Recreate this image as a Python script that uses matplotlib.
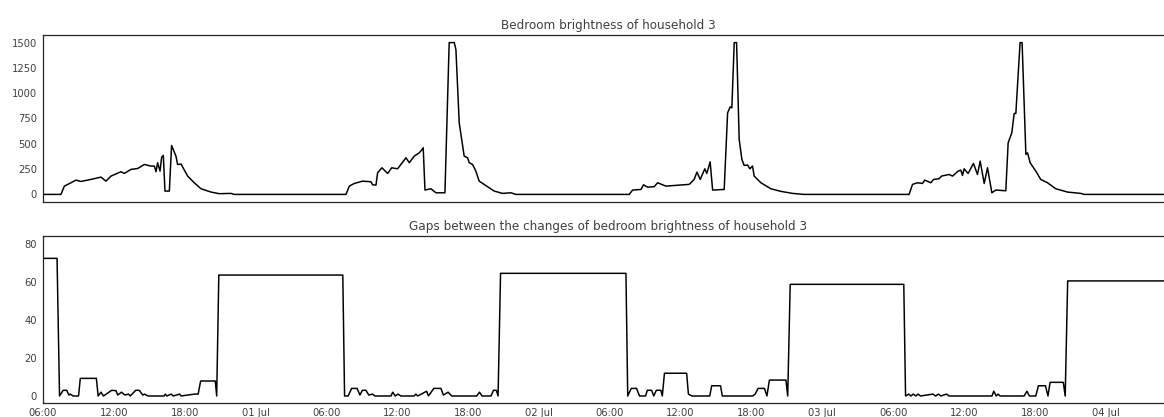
import matplotlib
matplotlib.use("Agg")
import matplotlib.pyplot as plt
import matplotlib.dates as mdates
from matplotlib.ticker import FuncFormatter
import pandas as pd

# ---- data (hours since 30 Jun 06:00) ----
start_time = "2018-06-30 06:00"
end_hours = 95.7

bright_hours = [0, 1.52, 1.81, 2.37, 2.79, 3.22, 4.06, 4.91, 5.33, 5.76, 6.60, 6.89, 7.45, 8.02, 8.58,
                9.14, 9.43, 9.57, 9.71, 9.91, 10.05, 10.19, 10.33, 10.70, 10.89, 11.26, 11.40, 11.69,
                12.25, 12.81, 13.38, 14.23, 14.94, 15.92, 16.20,
                25.66, 25.94, 26.36, 27.07, 27.77, 27.92, 28.20, 28.34, 28.70, 29.19, 29.53, 30.03,
                30.31, 30.74, 31.02, 31.44, 31.86, 32.00, 32.20, 32.35, 32.85, 33.28, 34.04, 34.40,
                34.83, 34.97, 35.25, 35.67, 35.96, 36.10, 36.38, 36.66, 36.94, 37.65, 38.21, 38.92,
                39.63, 40.05,
                49.65, 49.93, 50.64, 50.86, 51.20, 51.76, 52.05, 52.75, 54.73, 55.15, 55.38, 55.66,
                56.05, 56.22, 56.50, 56.71, 57.69, 57.98, 58.20, 58.34, 58.54, 58.74, 58.96, 59.19,
                59.38, 59.67, 59.87, 60.09, 60.23, 60.80, 61.64, 62.49, 63.48, 64.46,
                73.35, 73.64, 74.06, 74.48, 74.68, 75.19, 75.42, 75.89, 76.10, 76.74, 77.03, 77.50,
                77.73, 77.87, 78.01, 78.35, 78.80, 79.14, 79.37, 79.71, 79.99, 80.36, 80.69, 81.54,
                81.74, 82.05, 82.25, 82.39, 82.75, 82.92, 83.24, 83.38, 83.60, 84.08, 84.50, 85.07,
                85.77, 86.77, 87.89, 88.17, 95.7]
bright_values = [0, 0, 82, 115, 141, 128, 148, 171, 131, 181, 224, 207, 247, 256, 296,
                 280, 280, 224, 313, 230, 368, 385, 33, 33, 484, 378, 296, 300,
                 181, 115, 56, 23, 7, 10, 0,
                 0, 82, 108, 131, 125, 95, 92, 214, 263, 207, 263, 253,
                 296, 362, 313, 378, 411, 428, 461, 43, 56, 16, 16, 1500,
                 1500, 1431, 707, 378, 362, 313, 296, 230, 131, 76, 33, 10,
                 16, 0,
                 0, 43, 49, 95, 72, 76, 115, 82, 99, 148, 220, 148,
                 253, 207, 322, 43, 49, 806, 865, 855, 1500, 1500, 543, 345,
                 287, 290, 253, 280, 181, 115, 56, 30, 10, 0,
                 0, 99, 115, 108, 141, 115, 148, 155, 181, 197, 181, 230,
                 240, 187, 253, 207, 306, 197, 329, 108, 263, 16, 43, 36,
                 510, 609, 800, 800, 1500, 1500, 395, 411, 313, 230, 148, 115,
                 56, 23, 10, 0, 0]

gap_hours = [0, 1.19, 1.40, 1.71, 2.01, 2.19, 2.31, 2.55, 3.01, 3.16, 4.52, 4.67, 4.91, 5.12, 5.82,
             6.18, 6.33, 6.64, 6.94, 7.24, 7.39, 7.85, 8.15, 8.45, 8.60, 8.90, 10.26, 10.36, 10.48,
             10.87, 11.02, 11.57, 11.69, 12.83, 13.14, 13.35, 14.59, 14.71, 14.89, 25.39, 25.54,
             25.84, 26.14, 26.60, 26.84, 27.05, 27.35, 27.59, 27.90, 28.11, 29.47, 29.62, 29.83,
             30.07, 30.31, 31.43, 31.58, 31.74, 32.34, 32.49, 32.64, 33.10, 33.70, 33.91, 34.31,
             34.61, 36.73, 36.97, 37.18, 37.94, 38.15, 38.39, 38.54, 38.75, 49.37, 49.52,
             49.82, 50.27, 50.52, 51.03, 51.18, 51.54, 51.73, 51.94, 52.33, 52.45, 52.63, 54.51,
             54.66, 54.96, 56.47, 56.63, 57.38, 57.53, 60.10, 60.31, 60.56, 61.10, 61.31, 61.52,
             62.92, 63.07, 63.28, 72.90, 73.05,
             73.32, 73.50, 73.71, 73.92, 74.10, 74.32, 75.37, 75.59, 75.83, 76.04, 76.52, 76.74,
             80.37, 80.52, 80.73, 80.88, 81.06, 83.09, 83.33, 83.54, 84.08, 84.30, 84.90, 85.11,
             85.29, 86.41, 86.57, 86.78, 95.7]
gap_values = [72.6, 72.6, 0, 3, 3, 0.5, 1, 0, 0, 9.3, 9.3, 0, 2, 0, 3,
              2.8, 0.5, 2, 0.5, 1, 0, 3, 3, 0.5, 1, 0, 0, 1, 0,
              1, 0, 1, 0, 1, 1, 7.9, 7.9, 0, 63.8, 63.8, 0,
              0, 4, 4, 0.5, 3, 3, 0.5, 1, 0, 0, 2, 0,
              1, 0, 0, 1, 0, 2, 2.5, 0, 4, 4, 0.5, 2,
              0, 0, 2, 0, 0, 3, 3, 0, 64.7, 64.7, 0,
              4, 4, 0, 0, 3, 3, 0, 3, 3, 0, 12, 12,
              1, 0, 0, 5.4, 5.4, 0, 0, 1, 4, 4, 0, 8.4,
              8.4, 0, 58.9, 58.9, 0,
              1, 0, 1, 0, 1, 0, 1, 0, 1, 0, 1, 0,
              0, 2.5, 0, 1, 0, 0, 2.5, 0, 0, 5.4, 5.4, 0,
              7.2, 7.2, 0, 60.7, 60.7]

titles = ["Bedroom brightness of household 3",
          "Gaps between the changes of bedroom brightness of household 3"]
bright_yticks = [0, 250, 500, 750, 1000, 1250, 1500]
gap_yticks = [0, 20, 40, 60, 80]

# ---- style ----
dark = "#262626"
plt.rcParams.update({
    "font.family": "DejaVu Sans",
    "font.size": 10,
    "axes.edgecolor": dark,
    "axes.linewidth": 1.25,
    "axes.labelcolor": dark,
    "text.color": dark,
    "xtick.color": dark,
    "ytick.color": dark,
    "xtick.major.size": 0,
    "ytick.major.size": 0,
    "xtick.major.pad": 5,
    "ytick.major.pad": 6,
    "axes.titlesize": 12,
})

t0 = pd.Timestamp(start_time)
bt = t0 + pd.to_timedelta(bright_hours, unit="h")
gt = t0 + pd.to_timedelta(gap_hours, unit="h")
tend = t0 + pd.to_timedelta(end_hours, unit="h")

W, H = 1164, 417
fig = plt.figure(figsize=(W / 72, H / 72), dpi=72)
ax1 = fig.add_axes([43 / W, 1 - 202 / H, (1173 - 43) / W, (202 - 35) / H])
ax2 = fig.add_axes([43 / W, 1 - 403 / H, (1173 - 43) / W, (403 - 236) / H], sharex=ax1)

ax1.plot(bt, bright_values, color="black", lw=1.5)
ax2.plot(gt, gap_values, color="black", lw=1.5)

ax1.set_title(titles[0], color="#404040")
ax2.set_title(titles[1], color="#404040")
ax1.set_yticks(bright_yticks)
ax1.set_ylim(-75, 1575)
ax2.set_yticks(gap_yticks)
ax2.set_ylim(-3.7, 84.4)
ax1.set_xlim(t0, tend)


def fmt(x, pos=None):
    d = mdates.num2date(x)
    if d.hour == 0:
        return d.strftime("%d %b")
    return d.strftime("%H:%M")


ax2.xaxis.set_major_locator(mdates.HourLocator(byhour=[0, 6, 12, 18]))
ax2.xaxis.set_major_formatter(FuncFormatter(fmt))
ax1.tick_params(axis="x", labelbottom=False)
for ax in (ax1, ax2):
    ax.tick_params(axis="both", labelcolor="#404040")

fig.savefig("out.png", dpi=72)
